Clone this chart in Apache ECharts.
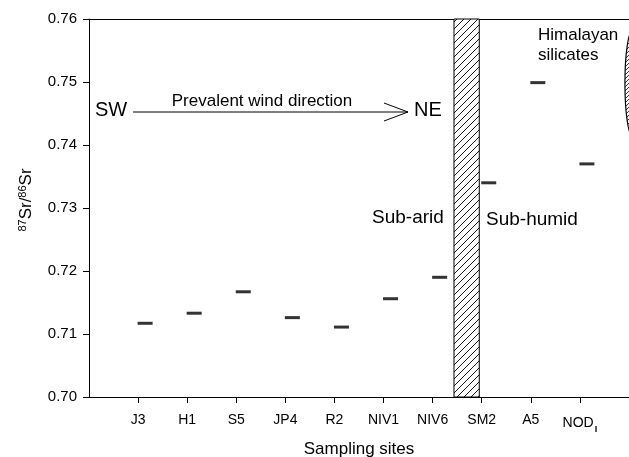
<!DOCTYPE html>
<html>
<head>
<meta charset="utf-8">
<script src="https://cdn.jsdelivr.net/npm/echarts@6/dist/echarts.min.js"></script>
<style>
html,body{margin:0;padding:0;background:#fff;}
#chart{width:629px;height:457px;}
</style>
</head>
<body>
<div id="chart"></div>
<script>
// ---- data ----
const categories = ['J3', 'H1', 'S5', 'JP4', 'R2', 'NIV1', 'NIV6', 'SM2', 'A5', 'NOD'];
const srRatio = [0.7117, 0.7133, 0.7167, 0.7126, 0.7111, 0.7156, 0.7190, 0.7340, 0.7499, 0.7370];
const yTicks = [0.70, 0.71, 0.72, 0.73, 0.74, 0.75, 0.76];
const transitionBand = [7.435, 7.95];          // hatched sub-arid / sub-humid boundary (x units)
const himalayanRange = [11.08, 0.7413, 0.7583]; // x, ymin, ymax of Himalayan silicates field

const FONT = "'Liberation Sans', Arial, sans-serif";
const sitePos = categories.map((c, i) => i + 1);
const points = sitePos.map((x, i) => [x, srRatio[i]]);

function hatch(size, lw) {
  const c = document.createElement('canvas');
  c.width = size; c.height = size;
  const g = c.getContext('2d');
  g.fillStyle = '#fff'; g.fillRect(0, 0, size, size);
  g.strokeStyle = '#000'; g.lineWidth = lw;
  g.beginPath();
  g.moveTo(0, size); g.lineTo(size, 0);
  g.moveTo(-size / 2, size / 2); g.lineTo(size / 2, -size / 2);
  g.moveTo(size / 2, size * 1.5); g.lineTo(size * 1.5, size / 2);
  g.stroke();
  return c;
}
const bandPattern = { image: hatch(7, 0.9), repeat: 'repeat' };
const ellPattern = { image: hatch(4, 0.8), repeat: 'repeat' };

const chart = echarts.init(document.getElementById('chart'), null, { renderer: 'canvas' });
const txt = (text, x, y, size, align) => ({
  type: 'text', x: x, y: y, z: 10,
  style: { text: text, fill: '#000', font: size + 'px ' + FONT, textAlign: align || 'left', textVerticalAlign: 'middle' }
});

const option = {
  animation: false,
  backgroundColor: '#fff',
  grid: { left: 89, right: 0, top: 19, bottom: 60, containLabel: false, outerBoundsMode: 'none' },
  xAxis: [{
    type: 'value', min: 0, max: 11, interval: 1, position: 'bottom',
    name: 'Sampling sites', nameLocation: 'middle', nameGap: 44,
    nameTextStyle: { fontFamily: FONT, fontSize: 17, color: '#000' },
    axisLine: { lineStyle: { color: '#000', width: 1 } },
    axisTick: { show: true, inside: false, length: 6, lineStyle: { color: '#000' }, customValues: sitePos },
    axisLabel: {
      customValues: sitePos, margin: 16, fontFamily: FONT, fontSize: 14, color: '#000',
      formatter: v => { const c = categories[Math.round(v) - 1] || ''; return c === 'NOD' ? 'NOD{sub|I}' : c; },
      rich: { sub: { fontFamily: FONT, fontSize: 9, fontWeight: 'bold', color: '#000', padding: [12, 0, 0, 1] } }
    },
    splitLine: { show: false }
  }, {
    type: 'value', min: 0, max: 11, position: 'top',
    axisLine: { show: true, lineStyle: { color: '#000', width: 1 } },
    axisTick: { show: false }, axisLabel: { show: false }, splitLine: { show: false }
  }],
  yAxis: {
    type: 'value', min: yTicks[0], max: yTicks[yTicks.length - 1], interval: 0.01,
    name: '{sup|87}Sr/{sup|86}Sr', nameLocation: 'middle', nameGap: 54, nameRotate: 90,
    nameTextStyle: {
      fontFamily: FONT, fontSize: 17, color: '#000', padding: [0, 0, 0, 16],
      rich: {
        sup: { fontFamily: FONT, fontSize: 11, color: '#000', verticalAlign: 'top', padding: [0, 0, 7, 0] }
      }
    },
    axisLine: { show: true, lineStyle: { color: '#000', width: 1 } },
    axisTick: { show: true, inside: false, length: 6, lineStyle: { color: '#000' } },
    axisLabel: { margin: 12, fontFamily: FONT, fontSize: 15, color: '#000', formatter: v => v.toFixed(2) },
    splitLine: { show: false }
  },
  series: [{
    type: 'scatter',
    data: points,
    symbol: 'rect',
    symbolSize: [15, 3],
    symbolOffset: [7, 0],
    itemStyle: { color: '#000' },
    markArea: {
      silent: true,
      itemStyle: { color: bandPattern, borderColor: '#000', borderWidth: 1 },
      data: [[{ xAxis: transitionBand[0], yAxis: yTicks[0] }, { xAxis: transitionBand[1], yAxis: yTicks[yTicks.length - 1] }]]
    }
  }],
  graphic: [
    txt('SW', 95, 110, 20),
    { type: 'line', z: 10, shape: { x1: 133, y1: 112, x2: 408, y2: 112 }, style: { stroke: '#000', lineWidth: 1 } },
    { type: 'polyline', z: 10, shape: { points: [[384, 103], [408, 112], [384, 121]] }, style: { stroke: '#000', lineWidth: 1, fill: null } },
    txt('Prevalent wind direction', 262, 101, 17, 'center'),
    txt('NE', 414, 110, 20),
    txt('Sub-arid', 372, 218, 19),
    txt('Sub-humid', 486, 220, 19),
    txt('Himalayan', 538, 35, 17),
    txt('silicates', 538, 55, 17)
  ]
};
chart.setOption(option);

// Himalayan silicates field drawn in data coordinates
const pTop = chart.convertToPixel({ gridIndex: 0 }, [himalayanRange[0], himalayanRange[2]]);
const pBot = chart.convertToPixel({ gridIndex: 0 }, [himalayanRange[0], himalayanRange[1]]);
chart.setOption({
  graphic: option.graphic.concat([{
    type: 'ellipse', z: 5,
    shape: { cx: pTop[0], cy: (pTop[1] + pBot[1]) / 2, rx: 8, ry: Math.abs(pBot[1] - pTop[1]) / 2 },
    style: { fill: ellPattern, stroke: '#000', lineWidth: 1.2 }
  }])
});
</script>
</body>
</html>
